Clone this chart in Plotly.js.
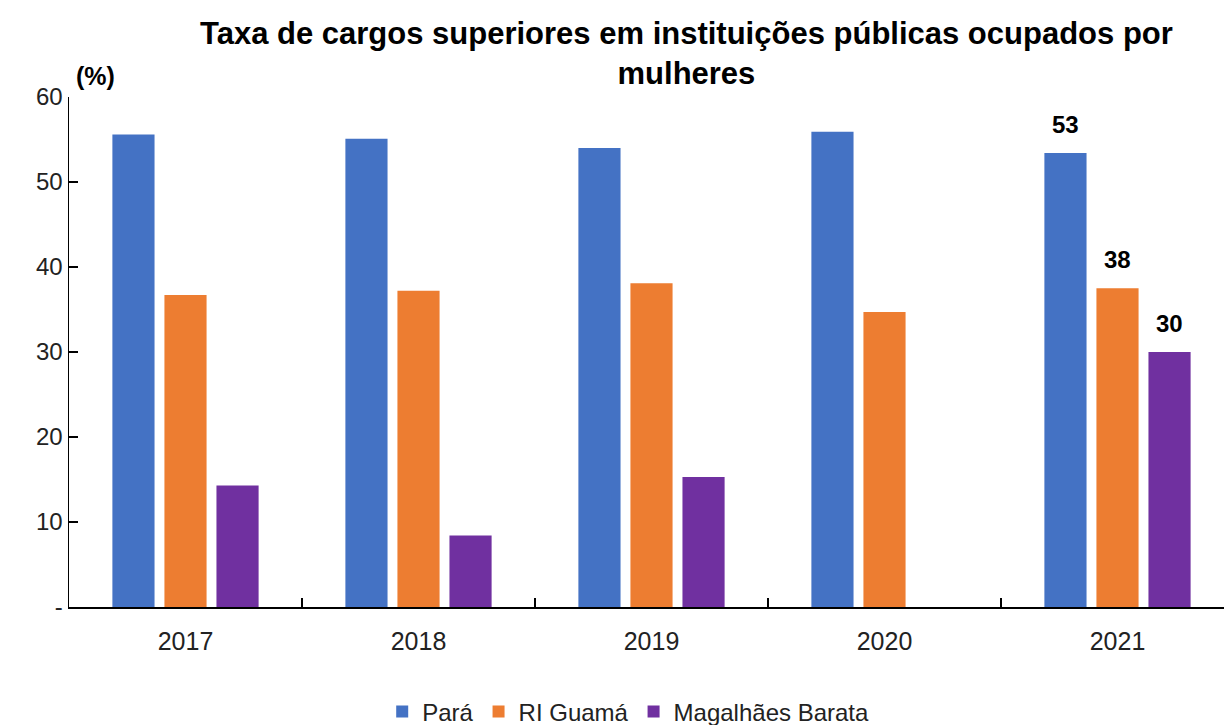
<!DOCTYPE html>
<html><head><meta charset="utf-8">
<script src="https://cdn.plot.ly/plotly-3.0.1.min.js"></script>
<style>html,body{margin:0;padding:0;overflow:hidden;background:#fff}</style>
</head><body><div id="chart"></div>
<script>
const years = ['2017','2018','2019','2020','2021'];
const para = [55.6, 55.1, 54.0, 55.9, 53.4];
const guama = [36.7, 37.2, 38.1, 34.7, 37.5];
const magalhaes = [14.3, 8.4, 15.3, null, 30.0];
const seriesNames = ['Pará', 'RI Guamá', 'Magalhães Barata'];
const colors = ['#4472C4', '#ED7D31', '#7030A0'];
const yTickVals = [0, 10, 20, 30, 40, 50, 60];
const yTickText = ['-', '10', '20', '30', '40', '50', '60'];

const FONT = '"Liberation Sans", Arial, sans-serif';
const allSeries = [para, guama, magalhaes];
const traces = allSeries.map((vals, i) => ({
  type: 'bar', name: seriesNames[i], x: years, y: vals,
  marker: {color: colors[i]}, hoverinfo: 'skip'
}));

const lastIdx = years.length - 1;
const slot = 52;
const annotations = allSeries.map((vals, i) => ({
  x: lastIdx, y: vals[lastIdx], xref: 'x', yref: 'y',
  text: String(Math.round(vals[lastIdx])), showarrow: false,
  xshift: (i - 1) * slot, yshift: 13, yanchor: 'bottom',
  font: {family: FONT, size: 24, color: '#000', weight: 'bold'}
}));
annotations.push({
  text: '(%)', xref: 'paper', yref: 'paper', x: 0.004, y: 1.0, xanchor: 'left', yanchor: 'bottom',
  yshift: 5, showarrow: false, font: {family: FONT, size: 25, color: '#000', weight: 'bold'}
});

const layout = {
  width: 1234, height: 725,
  margin: {l: 69, r: 0, t: 97, b: 118},
  paper_bgcolor: '#fff', plot_bgcolor: '#fff',
  font: {family: FONT, color: '#222'},
  title: {
    text: 'Taxa de cargos superiores em instituições públicas ocupados por<br>mulheres',
    font: {family: FONT, size: 31, color: '#000', weight: 'bold'},
    x: 0.53, xref: 'paper', xanchor: 'center', y: 0.94, yref: 'container', yanchor: 'top'
  },
  barmode: 'group', bargap: 0.33, bargroupgap: 0.19,
  xaxis: {
    type: 'category', categoryorder: 'array', categoryarray: years,
    range: [-0.5, years.length - 0.5], autorange: false,
    showline: true, linecolor: '#000', linewidth: 1.5,
    ticks: 'inside', tickson: 'boundaries', ticklen: 9, tickcolor: '#000', tickwidth: 1.5,
    tickangle: 0, ticklabelstandoff: 11,
    tickfont: {family: FONT, size: 25, color: '#222'},
    showgrid: false, zeroline: false, fixedrange: true
  },
  yaxis: {
    range: [0, 60], autorange: false, showline: true, linecolor: '#000', linewidth: 1.5,
    ticks: 'inside', ticklen: 9, tickcolor: '#000', tickwidth: 1.5,
    tickmode: 'array', tickvals: yTickVals, ticktext: yTickText,
    tickfont: {family: FONT, size: 24, color: '#222'}, ticksuffix: '       ',
    showgrid: false, zeroline: false, fixedrange: true
  },
  showlegend: true,
  legend: {
    orientation: 'h', x: 0.48, xanchor: 'center', xref: 'paper',
    y: 0.018, yanchor: 'middle', yref: 'container',
    font: {family: FONT, size: 24, color: '#222'}
  },
  annotations: annotations
};
Plotly.newPlot('chart', traces, layout, {displayModeBar: false, staticPlot: true});
</script></body></html>
